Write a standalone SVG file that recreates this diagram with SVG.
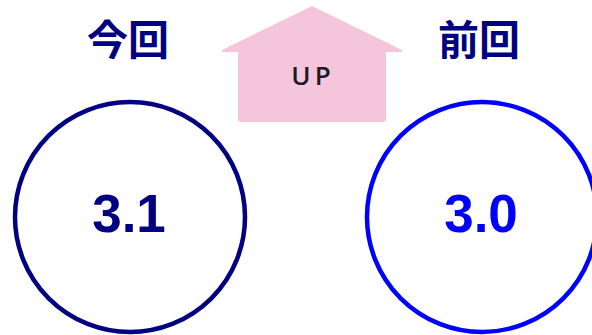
<svg xmlns="http://www.w3.org/2000/svg" width="592" height="335" viewBox="0 0 592 335">
<style>
.label{font-family:"Noto Sans CJK JP","Noto Sans",sans-serif;font-weight:bold;font-size:41px;fill:#000080;text-anchor:middle}
.val{font-family:"Liberation Sans",Arial,sans-serif;font-weight:bold;font-size:53px;text-anchor:middle}
.ring{fill:#ffffff;stroke-width:4.5}
</style>
<rect width="592" height="335" fill="#ffffff"/>
<g id="up-badge">
<path d="M312,6 L402,50 Q403,52 400,52 L386,52 L386,119 Q386,122 383,122 L241,122 Q238,122 238,119 L238,52 L224,52 Q221,52 222,50 Z" fill="#F5C6DB"/>
<text x="313" y="85" font-family="Open Sans,Liberation Sans,sans-serif" font-weight="600" font-size="26" fill="#1a1a2a" text-anchor="middle" letter-spacing="4">UP</text>
</g>
<g id="current">
<text class="label" x="128" y="55">今回</text>
<circle class="ring" cx="130" cy="217" r="115" stroke="#000080"/>
<text class="val" x="129" y="232" fill="#000080">3.1</text>
</g>
<g id="previous">
<text class="label" x="479" y="55">前回</text>
<circle class="ring" cx="482" cy="217" r="115" stroke="#0000FF"/>
<text class="val" x="481" y="232" fill="#0000FF">3.0</text>
</g>
<g id="connectors"></g>
</svg>
